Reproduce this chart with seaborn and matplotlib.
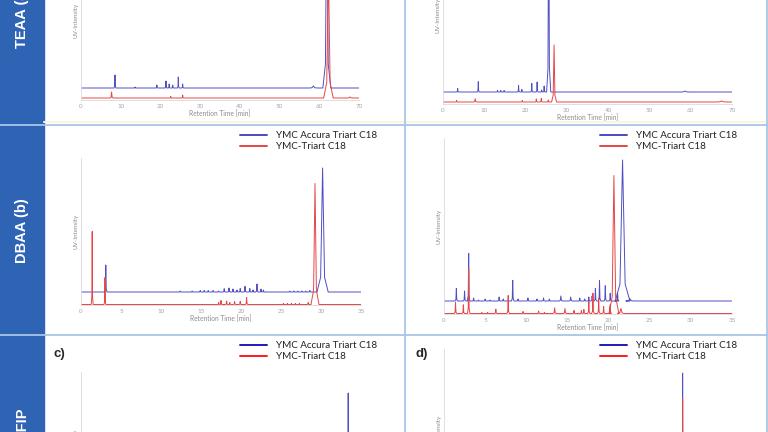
import numpy as np
import pandas as pd
import matplotlib
matplotlib.use('Agg')
import matplotlib.pyplot as plt
import seaborn as sns
from matplotlib.lines import Line2D
from matplotlib.patches import Rectangle

# chromatogram peaks: (retention time [min], height above baseline [a.u.], optional half width)
teaa_left_blue = [(8.56, 13), (13.6, 1), (19.1, 3), (21.4, 7), (22.2, 4), (23.1, 3), (24.5, 11),
                  (25.6, 4), (58.5, 2, 1.0), (61.9, 200, 1.0)]
teaa_left_red = [(7.7, 6, 0.4), (22.6, 1.5), (25.6, 3), (62.3, 130, 1.2), (67.7, 1, 0.8)]
teaa_right_blue = [(3.55, 3.7), (8.55, 10.3), (13.2, 1.5), (14.0, 1.5), (14.8, 1.5), (18.3, 6.7),
                   (19.1, 2.5), (21.5, 8.7), (22.8, 10), (23.9, 2), (24.5, 6), (25.6, 200, 0.5),
                   (58.6, 1, 1.0)]
teaa_right_red = [(3.3, 1.5), (7.8, 3.3, 0.4), (19.2, 1.5), (22.6, 3), (23.8, 3.5), (25.5, 2),
                  (26.9, 57, 0.6), (67.5, 1, 1.5)]

dbaa_left_blue = [(3.1, 27, 0.15), (12.4, 1), (13.9, 1), (14.9, 1.5), (15.4, 1.5), (15.9, 1.5),
                  (16.5, 1.5), (17.2, 1), (17.9, 3.3), (18.5, 4), (19.0, 3), (19.5, 2), (19.9, 3.5),
                  (20.5, 5.7), (21.1, 3.5), (21.5, 2), (22.0, 8), (22.5, 3), (22.8, 2), (26.1, 1),
                  (26.6, 1), (27.1, 1), (27.6, 1), (28.1, 1), (28.6, 1.5), (30.2, 124, 0.7)]
dbaa_left_red = [(1.4, 73, 0.12), (3.0, 27, 0.12), (17.2, 2), (17.5, 4), (18.2, 3.5), (18.6, 2),
                 (19.2, 3), (19.9, 3), (20.7, 7), (25.3, 1), (25.8, 1), (26.3, 1), (26.8, 1),
                 (27.3, 1), (28.4, 2), (29.25, 121, 0.5)]
dbaa_right_blue = [(1.5, 12.7), (2.5, 10), (3.0, 47.7), (3.6, 3), (4.2, 1), (5.0, 2), (5.6, 1),
                   (6.7, 4), (7.2, 2), (8.35, 20.7), (9.0, 2), (10.2, 3), (11.3, 2), (12.1, 3),
                   (12.8, 2), (14.2, 5, 0.2), (15.4, 4, 0.2), (16.5, 3), (17.1, 2), (17.6, 4),
                   (18.0, 5), (18.4, 12.7), (18.9, 20.7), (19.6, 15.3), (20.2, 7.7), (21.1, 7.7),
                   (21.7, 141, 0.9), (22.6, 2, 0.5)]
dbaa_right_red = [(1.4, 11), (2.35, 8.7), (3.0, 44.7), (4.6, 1), (5.3, 1), (6.3, 4.3), (7.8, 18),
                  (9.6, 2), (11.5, 2.5), (12.2, 1), (13.45, 5.7, 0.2), (14.7, 5, 0.2), (15.8, 3),
                  (16.7, 3), (17.0, 4), (17.6, 12.7), (18.1, 20.3), (18.8, 15), (19.4, 7),
                  (20.2, 8.7), (20.65, 138, 0.6), (21.5, 5, 0.4)]

hfip_left_blue = [(33.4, 114, 0.1)]
hfip_left_red = [(33.4, 70, 0.1)]
hfip_right_blue = [(29.0, 129, 0.1)]
hfip_right_red = [(29.0, 116, 0.1)]

series_names = ['YMC Accura Triart C18', 'YMC-Triart C18']
row_labels = ['TEAA (a)', 'DBAA (b)', 'HFIP']
ticks_teaa = [0, 10, 20, 30, 40, 50, 60, 70]
ticks_dbaa = [0, 5, 10, 15, 20, 25, 30, 35]

W, H = 768, 432
BLUE, RED = '#5050c2', '#e64646'

sns.set_style('white')
plt.rcParams['font.family'] = ['Lato', 'DejaVu Sans']

fig = plt.figure(figsize=(7.68, 4.32), dpi=100)
fig.patch.set_facecolor('white')


def px_axes(left, top, width, height):
    return fig.add_axes([left / W, 1 - (top + height) / H, width / W, height / H])


def trace(peaks, base, hw, t_end):
    pts = [(0.0, base)]
    for p in peaks:
        t, h = p[0], p[1]
        w = p[2] if len(p) > 2 else hw
        pts += [(t - w, base), (t - 0.35 * w, base + 0.12 * h), (t, base + h),
                (t + 0.35 * w, base + 0.12 * h), (t + w, base)]
    pts.append((t_end, base))
    return pts


def panel(left, top, width, height, xmax, ticks, blue, red, base_b, base_r, hw, xaxis_text=True):
    ax = px_axes(left, top, width, height)
    rows = []
    for name, peaks, base in [(series_names[0], blue, base_b), (series_names[1], red, base_r)]:
        for t, y in trace(peaks, base, hw, xmax):
            rows.append({'time': t, 'intensity': y, 'column': name})
    df = pd.DataFrame(rows)
    sns.lineplot(data=df, x='time', y='intensity', hue='column',
                 palette={series_names[0]: BLUE, series_names[1]: RED},
                 estimator=None, sort=False, legend=False, linewidth=0.7, ax=ax)
    ax.set_xlim(0, xmax)
    ax.set_ylim(0, height)
    ax.set_xticks(ticks)
    ax.set_yticks([])
    ax.tick_params(axis='x', length=1.5, width=0.5, color='#d0d0d0', labelsize=4.5,
                   labelcolor='#a6a6a6', pad=1.2, labelbottom=xaxis_text)
    for s in ['top', 'right']:
        ax.spines[s].set_visible(False)
    for s in ['left', 'bottom']:
        ax.spines[s].set_color('#dadada')
        ax.spines[s].set_linewidth(0.6)
    ax.set_xlabel('Retention Time [min]' if xaxis_text else '', fontsize=4.8, color='#8c8c8c',
                  labelpad=0.5)
    ax.set_ylabel('UV-Intensity', fontsize=4.5, color='#8c8c8c', labelpad=1.5)
    ax.patch.set_alpha(0)
    return ax


panel(81, -60, 278, 160, 70, ticks_teaa, teaa_left_blue, teaa_left_red, 12, 2, 0.25)
panel(443, -74, 289, 178, 70, ticks_teaa, teaa_right_blue, teaa_right_red, 12, 2, 0.25)
panel(81, 158, 280, 147, 35, ticks_dbaa, dbaa_left_blue, dbaa_left_red, 13, 0.5, 0.15)
panel(444, 138, 288, 176, 35, ticks_dbaa, dbaa_right_blue, dbaa_right_red, 13, 0.5, 0.15)
# the HFIP row continues below the visible area
panel(81, 372, 280, 148, 35, ticks_dbaa, hfip_left_blue, hfip_left_red, 13, 0.5, 0.15, False)
panel(444, 349, 288, 166, 35, ticks_dbaa, hfip_right_blue, hfip_right_red, 13, 0.5, 0.15, False)

# frame: blue band with row labels, light blue grid lines
fig.add_artist(Rectangle((0, 0), 44 / W, 1, transform=fig.transFigure, color='#2f63b4', zorder=0))
line_kw = dict(transform=fig.transFigure, color='#a9c5e7', linewidth=1.3)
for y in [125, 335]:
    fig.add_artist(Line2D([0, 1], [1 - y / H] * 2, **line_kw))
fig.add_artist(Line2D([44 / W, 1], [1 - 122 / H] * 2, transform=fig.transFigure,
                      color='#f8f5e2', linewidth=1.5))
for x in [405, 766.5]:
    fig.add_artist(Line2D([x / W] * 2, [0, 1], **line_kw))

for label, yc in zip(row_labels, [17, 231, 424]):
    fig.text(22 / W, 1 - yc / H, label, rotation=90, ha='center', va='center', color='white',
             fontsize=10.5, fontweight='bold', family='Liberation Sans')

fig.text(53 / W, 1 - 354 / H, 'c)', ha='left', va='center', fontsize=9.5, fontweight='bold',
         family='Liberation Sans')
fig.text(416 / W, 1 - 354 / H, 'd)', ha='left', va='center', fontsize=9.5, fontweight='bold',
         family='Liberation Sans')

# legends
for lx, ly, cols in [(240, 138, ('#4a4ac2', '#e24a4a')), (600, 138, ('#4a4ac2', '#e24a4a')),
                     (240, 348, ('#1c1cb8', '#ff1a1a')), (600, 348, ('#1c1cb8', '#ff1a1a'))]:
    handles = [Line2D([], [], color=cols[0], linewidth=1.4), Line2D([], [], color=cols[1], linewidth=1.4)]
    fig.legend(handles, series_names, loc='upper left', bbox_to_anchor=(lx / W, 1 - (ly - 6.5) / H),
               frameon=False, fontsize=7.1, handlelength=2.7, handletextpad=0.9, labelspacing=0.2,
               borderpad=0, borderaxespad=0, labelcolor='#222222')

fig.savefig('out.png', dpi=100, facecolor='white')
